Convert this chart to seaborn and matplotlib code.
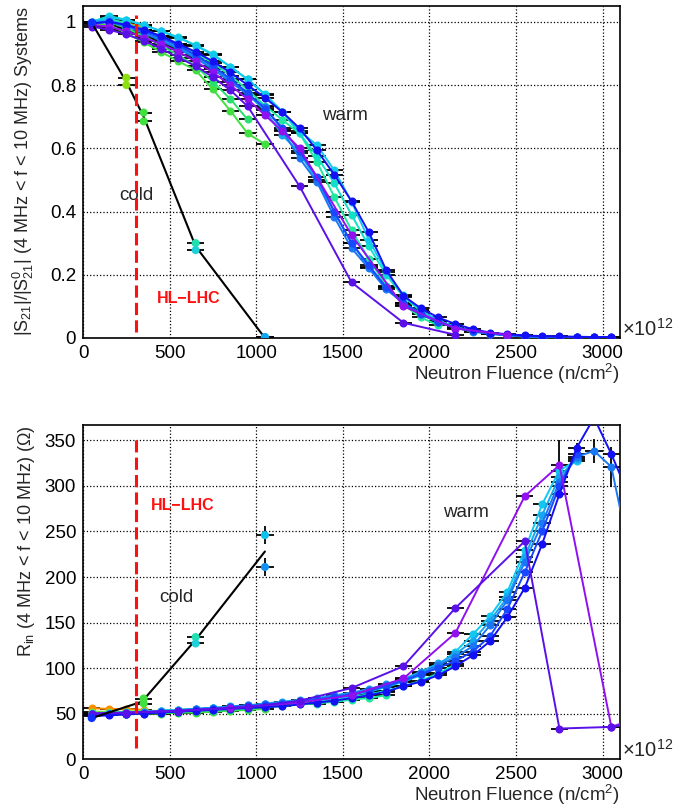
import numpy as np
import pandas as pd
import seaborn as sns
import matplotlib.pyplot as plt
from matplotlib.ticker import MultipleLocator

# fluence grid (x 10^12 n/cm^2), one point every 100
FL = [50, 150, 250, 350, 450, 550, 650, 750, 850, 950, 1050, 1150, 1250, 1350, 1450, 1550,
      1650, 1750, 1850, 1950, 2050, 2150, 2250, 2350, 2450, 2550, 2650, 2750, 2850, 2950, 3050, 3150]

# colours of the systems (ROOT rainbow)
COLORS = {
    "orange": "#ff8c00", "ygreen": "#96e010", "green": "#40e040", "lgreen": "#28e070",
    "tgreen": "#20e8a0", "teal": "#10e0c8", "cyan": "#10c8f0", "sky": "#19a5f0",
    "azure": "#1a78f5", "blue": "#1848ff", "dblue": "#1410f5", "violet": "#9010f0",
    "dviolet": "#5a10e8",
}

# ---- |S21|/|S21^0| (top panel) ----
s21_orange = [1.0, 1.005, 0.995, 0.984]
s21_ygreen = [1.0, 1.0, 0.99, 0.97, 0.95, 0.925]
s21_green = [0.995, 0.99, 0.965, 0.935, 0.905, 0.875, 0.847, 0.786, 0.719, 0.647, 0.613]
s21_lgreen = [1.0, 1.0, 0.98, 0.955, 0.925, 0.895, 0.86, 0.81, 0.756, 0.691]
s21_tgreen = [1.0, 1.01, 0.995, 0.975, 0.955, 0.93, 0.90, 0.87, 0.83, 0.785, 0.735, 0.69, 0.647,
              0.557, 0.447, 0.341, 0.25, 0.165, 0.105, 0.065, 0.04]
s21_teal = [1.0, 1.018, 1.007, 0.99, 0.971, 0.951, 0.926, 0.898, 0.858, 0.818, 0.771, 0.715, 0.647,
            0.575, 0.49, 0.39, 0.29, 0.20, 0.13, 0.085, 0.055, 0.035]
s21_cyan = [1.0, 1.015, 1.005, 0.99, 0.97, 0.95, 0.925, 0.895, 0.858, 0.818, 0.77, 0.716, 0.655, 0.61,
            0.531, 0.431, 0.31, 0.21, 0.135, 0.088, 0.055, 0.035, 0.022, 0.014, 0.009, 0.006, 0.004,
            0.003, 0.002, 0.002, 0.001]
s21_sky = [1.0, 1.005, 0.99, 0.97, 0.945, 0.92, 0.89, 0.855, 0.815, 0.77, 0.72, 0.642, 0.585, 0.50,
           0.40, 0.30, 0.225, 0.16, 0.11, 0.075, 0.05, 0.032, 0.02, 0.013, 0.008, 0.005, 0.003,
           0.002, 0.002]
s21_azure = [0.995, 1.0, 0.985, 0.965, 0.94, 0.915, 0.885, 0.85, 0.81, 0.77, 0.731, 0.658, 0.568,
             0.494, 0.383, 0.284, 0.22, 0.154, 0.11, 0.078, 0.052, 0.034, 0.022, 0.014, 0.009,
             0.006, 0.004, 0.003, 0.002, 0.002]
s21_blue = [0.995, 1.0, 0.99, 0.97, 0.95, 0.925, 0.895, 0.86, 0.82, 0.775, 0.725, 0.665, 0.59, 0.51,
            0.40, 0.30, 0.23, 0.16, 0.11, 0.075, 0.05, 0.033, 0.021, 0.014, 0.009, 0.006, 0.004,
            0.003, 0.003, 0.002, 0.002]
s21_dblue = [0.995, 1.0, 0.99, 0.975, 0.955, 0.93, 0.905, 0.875, 0.84, 0.80, 0.76, 0.715, 0.663,
             0.594, 0.517, 0.433, 0.334, 0.215, 0.133, 0.094, 0.065, 0.044, 0.028, 0.017, 0.012,
             0.008, 0.006, 0.005, 0.004, 0.003, 0.003]
s21_violet_x = [50, 150, 250, 350, 450, 550, 650, 750, 850, 950, 1050, 1150, 1250, 1550, 1850, 2150, 2450]
s21_violet = [0.99, 0.985, 0.97, 0.95, 0.93, 0.905, 0.875, 0.84, 0.80, 0.755, 0.705, 0.655, 0.60,
              0.326, 0.10, 0.03, 0.01]
s21_dviolet_x = [50, 150, 250, 350, 450, 550, 650, 750, 850, 950, 1250, 1550, 1850, 2150]
s21_dviolet = [0.985, 0.975, 0.96, 0.94, 0.915, 0.887, 0.86, 0.825, 0.784, 0.733, 0.48, 0.176,
               0.048, 0.01]

s21_cold_x = [50, 250, 250, 350, 350, 650, 650, 1050, 1050]
s21_cold = [0.997, 0.823, 0.80, 0.713, 0.685, 0.30, 0.278, 0.003, 0.003]
s21_cold_line_x = [50, 250, 350, 650, 1050]
s21_cold_line = [0.997, 0.81, 0.70, 0.29, 0.0]

# ---- R_in (bottom panel) ----
rin_orange = [56, 55, 55, 54]
rin_ygreen = [52, 52, 52, 53, 53, 54]
rin_green = [49, 49, 49, 50, 50, 51, 51, 52, 53, 54, 55]
rin_lgreen = [50, 50, 50, 51, 51, 52, 53, 53, 54, 55]
rin_tgreen = [50, 50, 50, 51, 51, 52, 53, 54, 55, 56, 57, 58, 60, 61, 63, 65, 67, 70]
rin_teal = [51, 51, 52, 52, 53, 54, 55, 56, 57, 58, 59, 61, 62, 64, 66, 68, 71, 75, 80, 86, 94, 104]
rin_cyan = [50, 50, 51, 52, 53, 54, 55, 56, 57, 58, 60, 61, 63, 65, 67, 70, 74, 79, 85, 92, 103,
            118, 137, 157, 183.6, 229.5, 279.7, 317, 328]
rin_sky = [50, 50, 51, 52, 53, 54, 55, 56, 58, 59, 61, 63, 65, 67, 70, 73, 77, 82, 88, 96, 105, 115,
           130, 152, 178, 222, 268, 310, 330]
rin_azure = [49, 49, 50, 51, 52, 53, 55, 56, 57, 59, 60, 62, 64, 66, 69, 72, 76, 81, 87, 94, 103,
             112, 124, 147, 174.5, 216.6, 258.8, 304.5, 332, 338.6, 321, 230]
rin_blue = [48, 49, 50, 51, 52, 53, 54, 55, 57, 58, 59, 61, 63, 65, 68, 71, 75, 80, 86, 93, 100, 108,
            118, 135, 165, 205, 250, 300, 335]
rin_dblue = [47, 48, 49, 50, 51, 52, 53, 54, 55, 56, 57, 58, 60, 62, 64, 67, 70, 74, 80, 85, 92, 102,
             114, 129.5, 156, 188, 236, 291, 342, 375, 335, 290]
rin_violet_x = [50, 250, 550, 850, 1250, 1550, 1850, 2150, 2550, 2750, 3050, 3150]
rin_violet = [50, 51, 53, 56, 62, 70, 88.5, 138.6, 288.8, 322.9, 35.3, 42]
rin_dviolet_x = [50, 250, 550, 950, 1250, 1550, 1850, 2150, 2550, 2750, 3050, 3150]
rin_dviolet = [50, 51, 53, 57, 64, 78, 102, 166, 239.3, 33.5, 35.3, 38]

rin_cold_x = [50, 350, 350, 650, 650, 1050, 1050]
rin_cold = [45, 66.5, 61, 134, 127, 246, 211]
rin_cold_line_x = [50, 340, 650, 1050]
rin_cold_line = [45, 63, 131, 228]

cold_colors = {"top": ["#1030ff", "#8ce010", "#8ce010", "#40e040", "#40e040", "#20e0b0", "#20d0d8",
                       "#10c0f0", "#10a8f0"],
               "bot": ["#1030ff", "#40e040", "#40e040", "#20e0b0", "#20d0d8", "#10c0f0", "#1090f0"]}

# visible vertical errors in the R_in panel
rin_verr_x = [1050, 1050, 2750, 2850, 2950, 3050]
rin_verr_y = [246, 211, 322.9, 335, 338.6, 321]
rin_verr = [10, 10, 28, 12, 13, 22]

HL_LHC = 308


def build(series):
    frames = []
    for name, (xs, ys) in series.items():
        frames.append(pd.DataFrame({"fluence": xs, "value": ys, "sys": name}))
    return pd.concat(frames, ignore_index=True)


top_series = {
    "orange": (FL[:len(s21_orange)], s21_orange), "ygreen": (FL[:len(s21_ygreen)], s21_ygreen),
    "green": (FL[:len(s21_green)], s21_green), "lgreen": (FL[:len(s21_lgreen)], s21_lgreen),
    "tgreen": (FL[:len(s21_tgreen)], s21_tgreen), "teal": (FL[:len(s21_teal)], s21_teal),
    "cyan": (FL[:len(s21_cyan)], s21_cyan), "sky": (FL[:len(s21_sky)], s21_sky),
    "azure": (FL[:len(s21_azure)], s21_azure), "blue": (FL[:len(s21_blue)], s21_blue),
    "dblue": (FL[:len(s21_dblue)], s21_dblue), "violet": (s21_violet_x, s21_violet),
    "dviolet": (s21_dviolet_x, s21_dviolet),
}
bot_series = {
    "orange": (FL[:len(rin_orange)], rin_orange), "ygreen": (FL[:len(rin_ygreen)], rin_ygreen),
    "green": (FL[:len(rin_green)], rin_green), "lgreen": (FL[:len(rin_lgreen)], rin_lgreen),
    "tgreen": (FL[:len(rin_tgreen)], rin_tgreen), "teal": (FL[:len(rin_teal)], rin_teal),
    "cyan": (FL[:len(rin_cyan)], rin_cyan), "sky": (FL[:len(rin_sky)], rin_sky),
    "azure": (FL[:len(rin_azure)], rin_azure), "blue": (FL[:len(rin_blue)], rin_blue),
    "dblue": (FL[:len(rin_dblue)], rin_dblue), "violet": (rin_violet_x, rin_violet),
    "dviolet": (rin_dviolet_x, rin_dviolet),
}

sns.set_style("white")
plt.rcParams["font.family"] = ["Liberation Sans", "DejaVu Sans"]
plt.rcParams["mathtext.fontset"] = "custom"
plt.rcParams["mathtext.rm"] = "Liberation Sans"
plt.rcParams["mathtext.it"] = "Liberation Sans:italic"
plt.rcParams["mathtext.default"] = "regular"

fig = plt.figure(figsize=(6.93, 8.08), dpi=100)
ax1 = fig.add_axes([0.1198, 0.5817, 0.7749, 0.4109])
ax2 = fig.add_axes([0.1198, 0.0606, 0.7749, 0.4134])

FS = 13.5


def draw_panel(ax, series, cold_x, cold_y, cold_c, line_x, line_y):
    df = build(series)
    ax.errorbar(df["fluence"], df["value"], xerr=50, fmt="none", ecolor="black",
                elinewidth=1.3, zorder=2)
    sns.lineplot(data=df, x="fluence", y="value", hue="sys", palette=COLORS,
                 hue_order=list(series.keys()), estimator=None, sort=False,
                 marker="o", markersize=5.8, markeredgewidth=0, linewidth=1.4,
                 legend=False, ax=ax, zorder=3)
    # cold system
    ax.errorbar(cold_x[1:], cold_y[1:], xerr=50, fmt="none", ecolor="black",
                elinewidth=1.3, zorder=2)
    sns.lineplot(x=line_x, y=line_y, color="black", linewidth=1.5, sort=False,
                 estimator=None, ax=ax, zorder=4)
    keys = [str(i) for i in range(len(cold_x))]
    sns.scatterplot(x=cold_x, y=cold_y, hue=keys, palette=dict(zip(keys, cold_c)),
                    s=34, linewidth=0, legend=False, ax=ax, zorder=5)


draw_panel(ax1, top_series, s21_cold_x, s21_cold, cold_colors["top"], s21_cold_line_x, s21_cold_line)
draw_panel(ax2, bot_series, rin_cold_x, rin_cold, cold_colors["bot"], rin_cold_line_x, rin_cold_line)
ax2.errorbar(rin_verr_x, rin_verr_y, yerr=rin_verr, fmt="none", ecolor="black",
             elinewidth=1.3, zorder=2)

# HL-LHC line
ax1.plot([HL_LHC, HL_LHC], [0.02, 1.02], color="#ff1010", lw=2.2, dashes=(4, 1.7), zorder=6)
ax2.plot([HL_LHC, HL_LHC], [12, 350], color="#ff1010", lw=2.2, dashes=(4, 1.7), zorder=6)

ax1.set_xlim(0, 3100)
ax1.set_ylim(0, 1.05)
ax2.set_xlim(0, 3100)
ax2.set_ylim(0, 367)

for ax, ymaj, ymin in [(ax1, 0.2, 0.05), (ax2, 50, 10)]:
    ax.xaxis.set_major_locator(MultipleLocator(500))
    ax.xaxis.set_minor_locator(MultipleLocator(100))
    ax.yaxis.set_major_locator(MultipleLocator(ymaj))
    ax.yaxis.set_minor_locator(MultipleLocator(ymin))
    ax.tick_params(which="both", direction="in", labelsize=FS, top=False, right=False,
                   colors="black")
    ax.tick_params(which="major", length=9, width=1.0, pad=5)
    ax.tick_params(which="minor", length=5, width=1.0)
    ax.grid(True, which="major", linestyle=":", color="black", linewidth=0.9)
    for sp in ax.spines.values():
        sp.set_linewidth(1.2)
        sp.set_color("black")
    ax.set_xlabel("Neutron Fluence (n/cm$^{2}$)", fontsize=FS, loc="right")
    ax.text(1.004, 0.028, r"$\times10^{12}$", transform=ax.transAxes, fontsize=14.5,
            ha="left", va="center")

ax1.xaxis.set_label_coords(1.0, -0.072)
ax2.xaxis.set_label_coords(1.0, -0.07)
ax1.set_yticks([0, 0.2, 0.4, 0.6, 0.8, 1.0])
ax1.set_yticklabels(["0", "0.2", "0.4", "0.6", "0.8", "1"])

ax1.set_ylabel("|S$_{21}$|/|S$^{0}_{21}$| (4 MHz < f < 10 MHz) Systems", fontsize=13, loc="top")
ax1.yaxis.set_label_coords(-0.088, 1.0)
ax2.set_ylabel("R$_{in}$ (4 MHz < f < 10 MHz) (Ω)", fontsize=13, loc="top")
ax2.yaxis.set_label_coords(-0.086, 1.0)

# annotations
ax1.text(1514, 0.705, "warm", fontsize=FS, ha="center", va="center")
ax1.text(309, 0.452, "cold", fontsize=FS, ha="center", va="center")
ax1.text(608, 0.126, "HL\u2212LHC", fontsize=11.5, fontweight="bold", color="#ff1010",
         ha="center", va="center")
ax2.text(2211, 271, "warm", fontsize=FS, ha="center", va="center")
ax2.text(540, 177, "cold", fontsize=FS, ha="center", va="center")
ax2.text(574, 279, "HL\u2212LHC", fontsize=11.5, fontweight="bold", color="#ff1010",
         ha="center", va="center")

fig.savefig("out.png", dpi=100)
